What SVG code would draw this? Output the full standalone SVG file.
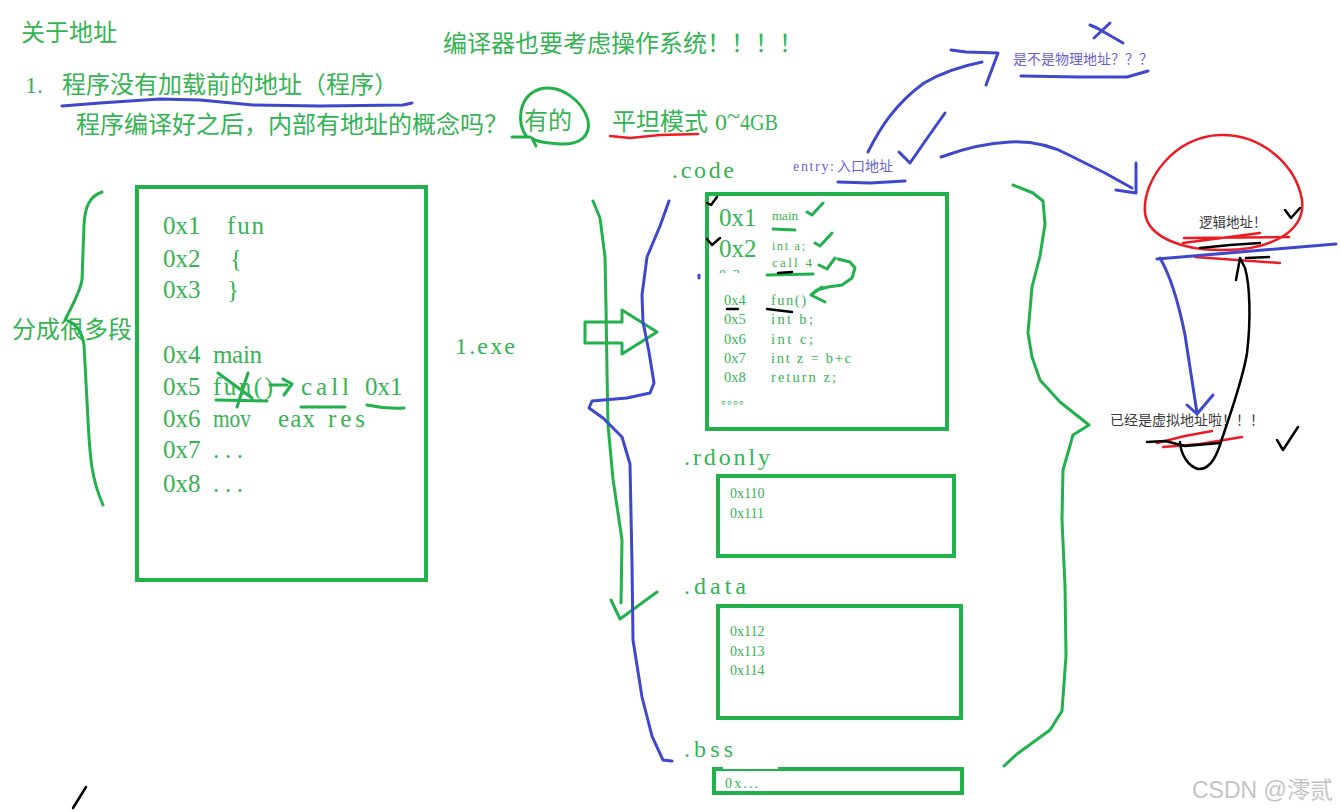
<svg xmlns="http://www.w3.org/2000/svg" width="1341" height="812" viewBox="0 0 1341 812">
<style>
.cn{font-family:"Noto Sans CJK SC",sans-serif;fill:#34b452}
.mo{font-family:"Liberation Serif","Noto Sans CJK SC",serif;fill:#34b452}
.pu{fill:#6a5fd6}
.dk{fill:#3a3a3a}
.g{stroke:#22b14c;fill:none;stroke-width:3;stroke-linecap:round;stroke-linejoin:round}
.b{stroke:#3f48cc;fill:none;stroke-width:3;stroke-linecap:round;stroke-linejoin:round}
.r{stroke:#ed1c24;fill:none;stroke-width:2.5;stroke-linecap:round;stroke-linejoin:round}
.k{stroke:#000;fill:none;stroke-width:2.5;stroke-linecap:round;stroke-linejoin:round}
.box{fill:#fff;stroke:#22b14c;stroke-width:4}
</style>
<defs>
<clipPath id="clip3"><rect x="700" y="255" width="60" height="18"/></clipPath>
</defs>
<rect width="1341" height="812" fill="#fff"/>

<g id="title">
<text class="cn" x="21" y="41" font-size="24">关于地址</text>
<text class="mo" x="25" y="93" font-size="24">1.</text>
<text class="cn" x="62" y="93" font-size="24">程序没有加载前的地址（程序）</text>
<text class="cn" x="76" y="133" font-size="24">程序编译好之后，内部有地址的概念吗？</text>
<text class="cn" x="524" y="129" font-size="24">有的</text>
<text class="cn" x="612" y="130" font-size="24">平坦模式</text>
<text class="mo" x="715" y="130" font-size="24">0</text>
<text class="mo" x="727" y="124" font-size="24">~</text>
<text class="mo" x="740" y="130" font-size="24" textLength="38" lengthAdjust="spacingAndGlyphs">4GB</text>
<text class="cn" x="443" y="52" font-size="24">编译器也要考虑操作系统！！！！</text>
<path class="b" d="M62,106 L100,103 L160,99 L200,100 L253,105 L320,106 L403,105 L412,103"/>
<path class="g" d="M512,137 L530,137 M527,137 C516,124 518,96 540,89 C560,84 582,100 588,120 C591,136 580,145 560,144 C546,143 536,142 532,138 L536,146"/>
<path class="r" d="M610,136 L630,138 L660,135 L698,134"/>
</g>

<g id="left-note">
<text class="cn" x="12" y="338" font-size="24">分成很多段</text>
</g>

<g id="program-box">
<rect class="box" x="137" y="187" width="289" height="393"/>
<g class="mo" font-size="25" lengthAdjust="spacing">
<text x="163" y="234">0x1</text><text x="227" y="234" textLength="37">fun</text>
<text x="163" y="267">0x2</text><text x="230" y="267">{</text>
<text x="163" y="298">0x3</text><text x="227" y="298">}</text>
<text x="163" y="363">0x4</text><text x="213" y="363" textLength="49">main</text>
<text x="163" y="395">0x5</text><text x="213" y="395" textLength="60">fun()</text><text x="301" y="395" textLength="48">call</text><text x="365" y="395">0x1</text>
<text x="163" y="427">0x6</text><text x="213" y="427" textLength="38" lengthAdjust="spacingAndGlyphs">mov</text><text x="278" y="427" textLength="37">eax</text><text x="328" y="427" textLength="37">res</text>
<text x="163" y="458">0x7</text><text x="213" y="458" textLength="30">...</text>
<text x="163" y="492">0x8</text><text x="213" y="492" textLength="30">...</text>
</g>
<path class="g" d="M218,373 L252,398 M248,373 L237,407 M216,400 L267,401 M270,385 L287,385 M283,379 L292,384 L284,395"/>
<path class="g" d="M301,407 L345,407 M367,405 Q385,409 404,408"/>
</g>

<g id="exe-label">
<text class="mo" x="455" y="354" font-size="24" textLength="60" lengthAdjust="spacing">1.exe</text>
</g>

<g id="code-section">
<text class="mo" x="672" y="178" font-size="24" textLength="62" lengthAdjust="spacing">.code</text>
<rect class="box" x="707" y="194" width="240" height="235"/>
<text class="mo" x="719" y="226" font-size="25">0x1</text>
<text class="mo" x="719" y="257" font-size="25">0x2</text>
<text class="mo" x="719" y="280" font-size="14" clip-path="url(#clip3)">0x3</text>
<text class="mo" x="772" y="220" font-size="13" textLength="26" lengthAdjust="spacing">main</text>
<text class="mo" x="772" y="250" font-size="12" textLength="33" lengthAdjust="spacing">int a;</text>
<text class="mo" x="772" y="267" font-size="13" textLength="40" lengthAdjust="spacing">call 4</text>
<g class="mo" font-size="14.5" lengthAdjust="spacing">
<text x="724" y="305">0x4</text><text x="771" y="305" textLength="35">fun()</text>
<text x="724" y="324">0x5</text><text x="771" y="324" textLength="42">int b;</text>
<text x="724" y="344">0x6</text><text x="771" y="344" textLength="42">int c;</text>
<text x="724" y="363">0x7</text><text x="771" y="363" textLength="80">int z = b+c</text>
<text x="724" y="382">0x8</text><text x="771" y="382" textLength="65">return z;</text>
</g>
<text class="cn" x="721" y="404" font-size="12">。。。。</text>
<path class="g" d="M773,229 L795,230 M767,275 L813,274"/>
<path class="k" d="M778,273 L792,272 M727,309 L738,309 M767,309 L792,312"/>
<path class="k" d="M707,203 L711,205 L717,197 M707,239 L712,245 L720,238"/>
<path class="g" d="M807,212 L812,215 L823,203 M815,243 L820,246 L832,233 M819,265 L827,269 L835,258"/>
<path class="g" d="M838,259 L850,262 L855,268 L852,278 L842,285 L828,287 L817,290 L811,295 M822,287 L811,295 L825,302"/>
<path class="b" d="M699,275 L699,278" stroke-width="1.5"/>
</g>

<g id="rdonly-section">
<text class="mo" x="684" y="465" font-size="24" textLength="86" lengthAdjust="spacing">.rdonly</text>
<rect class="box" x="718" y="476" width="236" height="80"/>
<text class="mo" x="730" y="498" font-size="14">0x110</text>
<text class="mo" x="730" y="518" font-size="14">0x111</text>
</g>

<g id="data-section">
<text class="mo" x="684" y="594" font-size="24" textLength="62" lengthAdjust="spacing">.data</text>
<rect class="box" x="718" y="606" width="243" height="112"/>
<text class="mo" x="730" y="636" font-size="14">0x112</text>
<text class="mo" x="730" y="656" font-size="14">0x113</text>
<text class="mo" x="730" y="675" font-size="14">0x114</text>
</g>

<g id="bss-section">
<text class="mo" x="684" y="757" font-size="24" textLength="49" lengthAdjust="spacing">.bss</text>
<rect class="box" x="714" y="769" width="248" height="24"/>
<rect x="723" y="766" width="55" height="3" fill="#fff"/>
<text class="mo" x="725" y="788" font-size="14" textLength="33" lengthAdjust="spacing">0x...</text>
</g>

<g id="entry-note">
<text class="mo pu" x="793" y="171" font-size="14" textLength="41" lengthAdjust="spacing">entry:</text>
<text class="cn pu" x="837" y="171" font-size="14">入口地址</text>
<path class="b" d="M838,182 L870,183 L905,181"/>
</g>

<g id="physical-note">
<text class="cn pu" x="1013" y="64" font-size="14">是不是物理地址？？？</text>
<path class="b" d="M1021,76 L1080,77 L1127,77 L1148,71"/>
<path class="b" d="M1090,25 L1097,28 L1123,43 M1110,23 L1094,38"/>
</g>

<g id="logical-node">
<path class="r" d="M1220,135 C1262,134 1296,165 1302,200 C1306,232 1270,250 1224,250 C1185,251 1148,238 1145,213 C1142,180 1175,136 1220,135 Z"/>
<text class="cn dk" x="1199" y="227" font-size="13.5">逻辑地址！</text>
<path class="k" d="M1285,210 L1291,218 L1300,208"/>
<path class="r" d="M1184,238 L1289,237 M1183,243 L1260,233 M1195,257 L1280,263"/>
<path class="k" d="M1200,248 L1230,245 L1260,243 M1246,258 L1269,257"/>
</g>

<g id="virtual-node">
<text class="cn dk" x="1110" y="425" font-size="14">已经是虚拟地址啦！！！</text>
<path class="r" d="M1157,443 L1185,436 L1212,431 M1163,447 L1200,444 L1242,437"/>
<path class="k" d="M1147,442 L1165,441 L1185,446 L1220,443"/>
<path class="k" d="M1277,440 L1283,450 L1298,427"/>
</g>

<g id="connectors">
<path class="g" d="M102,192 C90,196 85,206 84,225 L82,280 C80,292 72,306 65,320 M68,321 C76,324 82,332 84,345 L88,420 C90,460 92,480 103,505"/>
<path class="g" d="M593,201 L600,218 L605,257 L606,306 L607,372 L608,425 L613,479 L618,513 L622,540 L621,603 M611,600 L620,619 L657,592"/>
<path class="g" d="M585,322 L622,322 L622,310 L657,332 L622,354 L622,343 L585,343 Z" stroke-width="4"/>
<path class="b" d="M669,201 L660,226 L647,257 L642,295 L643,322 L649,352 L654,383 L650,393 L627,398 L592,401 L589,408 L603,418 L622,437 L630,464 L632,563 L633,640 L642,697 L652,736 L663,760 L672,761"/>
<path class="g" d="M1013,185 L1033,193 L1043,201 L1045,224 L1040,256 L1032,287 L1028,333 L1032,357 L1040,380 L1060,402 L1089,425 L1073,435 L1063,470 L1062,520 L1065,586 L1066,656 L1062,711 L1050,730 L1017,754 L1004,766"/>
<path class="b" d="M868,152 C880,128 895,104 924,83 C943,72 962,66 982,62 M951,50 L966,52 L998,53 L986,85"/>
<path class="b" d="M899,152 L910,163 L928,137 L945,113"/>
<path class="b" d="M941,157 C960,150 985,143 1010,142 C1030,141 1050,145 1069,155 L1105,173 L1132,188 M1116,190 L1136,193 L1136,163"/>
<path class="b" d="M1157,259 L1336,244"/>
<path class="b" d="M1160,258 C1170,275 1178,300 1185,335 L1193,387 L1197,413 M1187,405 L1197,414 L1213,395"/>
<path class="k" d="M1236,280 L1240,258 L1245,268 C1250,285 1251,320 1247,353 C1243,380 1228,420 1220,445 C1215,460 1208,470 1198,469 C1188,466 1181,455 1180,442"/>
<path class="k" d="M73,808 L86,787"/>
</g>

<g id="watermark">
<text x="1192" y="798" font-size="23" font-family="Liberation Sans,Noto Sans CJK SC,sans-serif" fill="#c4c4c4">CSDN @澪贰</text>
</g>
</svg>
